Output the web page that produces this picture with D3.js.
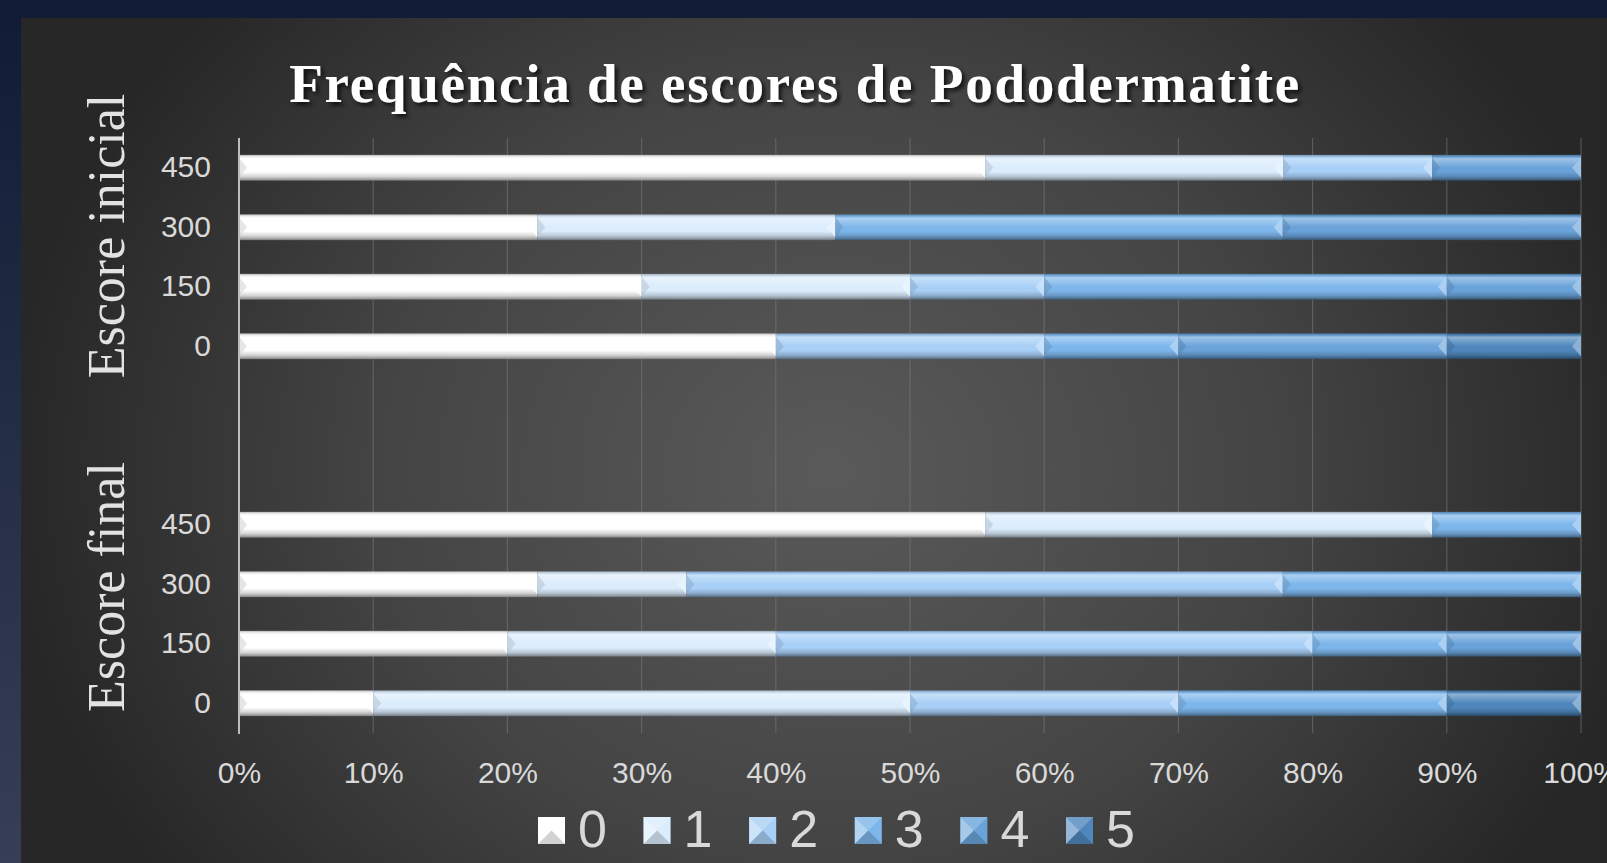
<!DOCTYPE html>
<html>
<head>
<meta charset="utf-8">
<script src="https://cdn.jsdelivr.net/npm/d3@7"></script>
<style>
  html, body { margin: 0; padding: 0; background: #111b35; }
  svg { display: block; }
</style>
</head>
<body>
<svg id="chart" width="1607" height="863"></svg>
<script>
// score categories (legend)
const scores = ["0", "1", "2", "3", "4", "5"];
const scoreColors = ["#ffffff", "#dbecfc", "#a8cff6", "#7db6eb", "#6aa3d9", "#4f87bc"];

// dose groups, top to bottom
const doses = ["450", "300", "150", "0"];

// frequency (%) of each score, per dose
const inicial = [
  [55.6, 22.2, 11.1, 0, 11.1, 0],
  [22.2, 22.2, 0, 33.3, 22.2, 0],
  [30, 20, 10, 30, 10, 0],
  [40, 0, 20, 10, 20, 10]
];
const final = [
  [55.6, 33.3, 0, 11.1, 0, 0],
  [22.2, 11.1, 44.4, 22.2, 0, 0],
  [20, 20, 40, 10, 10, 0],
  [10, 40, 20, 20, 0, 10]
];

const xTicks = [0, 0.1, 0.2, 0.3, 0.4, 0.5, 0.6, 0.7, 0.8, 0.9, 1];

const W = 1607, H = 863;
const padding = { left: 239, right: 25, top: 138, bottom: 130 };

const svg = d3.select("#chart");
const defs = svg.append("defs");

// backgrounds
const outerG = defs.append("linearGradient").attr("id", "outer")
  .attr("x1", 0).attr("y1", 0).attr("x2", 0).attr("y2", 1);
outerG.append("stop").attr("offset", "0%").attr("stop-color", "#111b35");
outerG.append("stop").attr("offset", "100%").attr("stop-color", "#363f56");

const panelG = defs.append("radialGradient").attr("id", "panel")
  .attr("gradientUnits", "userSpaceOnUse")
  .attr("cx", 830).attr("cy", 470).attr("r", 820)
  .attr("gradientTransform", "translate(830,470) scale(1,0.85) translate(-830,-470)");
panelG.append("stop").attr("offset", "0%").attr("stop-color", "#5a5a5a");
panelG.append("stop").attr("offset", "55%").attr("stop-color", "#444444");
panelG.append("stop").attr("offset", "100%").attr("stop-color", "#272727");

svg.append("rect").attr("width", W).attr("height", H).attr("fill", "url(#outer)");
svg.append("rect").attr("x", 21).attr("y", 18).attr("width", W - 21).attr("height", H - 18)
  .attr("fill", "url(#panel)");

// shadow for title
const sh = defs.append("filter").attr("id", "shadow").attr("x", "-5%").attr("y", "-30%")
  .attr("width", "110%").attr("height", "160%");
sh.append("feDropShadow").attr("dx", 3).attr("dy", 3).attr("stdDeviation", 2)
  .attr("flood-color", "#000").attr("flood-opacity", 0.7);

// bevel gradient per score
scores.forEach((s, i) => {
  const c = d3.color(scoreColors[i]);
  const g = defs.append("linearGradient").attr("id", "bar" + i)
    .attr("x1", 0).attr("y1", 0).attr("x2", 0).attr("y2", 1);
  const stops = [
    [0, c.darker(1.0)],
    [0.07, c.darker(0.2)],
    [0.15, d3.interpolateRgb(c, "#fff")(0.35)],
    [0.5, c],
    [0.66, c],
    [0.84, c.darker(0.5)],
    [0.94, c.darker(1.2)],
    [1, c.darker(2)]
  ];
  stops.forEach(st => g.append("stop").attr("offset", st[0]).attr("stop-color", st[1]));
});

// rows: top group, two spacers, bottom group
const rows = [];
doses.forEach((d, i) => rows.push({ key: "i" + d, label: d, values: inicial[i] }));
rows.push({ key: "s1", label: "", values: null });
rows.push({ key: "s2", label: "", values: null });
doses.forEach((d, i) => rows.push({ key: "f" + d, label: d, values: final[i] }));

const x = d3.scaleLinear().domain([0, 1]).range([padding.left, W - padding.right - 1]);
const y = d3.scaleBand().domain(rows.map(r => r.key))
  .range([padding.top, H - padding.bottom]).paddingInner(0.6).paddingOuter(0.3);

// gridlines
svg.append("g").selectAll("line").data(xTicks.slice(1)).enter().append("line")
  .attr("x1", d => x(d)).attr("x2", d => x(d))
  .attr("y1", padding.top).attr("y2", H - padding.bottom)
  .attr("stroke", "#7a7a7a").attr("stroke-opacity", 0.55).attr("stroke-width", 1.2);

// stacked bars
const dataRows = rows.filter(r => r.values).map(r => {
  const o = { key: r.key };
  scores.forEach((s, i) => o[s] = r.values[i]);
  return o;
});
const stack = d3.stack().keys(scores).offset(d3.stackOffsetExpand);
const layers = stack(dataRows);

const bh = y.bandwidth();
const barG = svg.append("g");
layers.forEach((layer, li) => {
  const segs = layer.filter(d => d[1] - d[0] > 0.0001);
  const g = barG.append("g");
  g.selectAll("rect").data(segs).enter().append("rect")
    .attr("x", d => x(d[0]))
    .attr("y", d => y(d.data.key) - 1)
    .attr("width", d => x(d[1]) - x(d[0]))
    .attr("height", bh + 2)
    .attr("fill", "url(#bar" + li + ")");
  const c = d3.color(scoreColors[li]);
  // right bevel (light) and left bevel (dark)
  g.selectAll("path.r").data(segs).enter().append("path")
    .attr("d", d => {
      const x1 = x(d[1]), y0 = y(d.data.key);
      return `M${x1},${y0 + 2}L${x1 - 9},${y0 + bh / 2}L${x1},${y0 + bh - 2}Z`;
    })
    .attr("fill", d3.interpolateRgb(c, "#fff")(0.4)).attr("opacity", 0.85);
  g.selectAll("path.l").data(segs).enter().append("path")
    .attr("d", d => {
      const x0 = x(d[0]), y0 = y(d.data.key);
      return `M${x0},${y0 + 2}L${x0 + 8},${y0 + bh / 2}L${x0},${y0 + bh - 2}Z`;
    })
    .attr("fill", c.darker(0.6)).attr("opacity", 0.5);
});

// vertical axis
const yAxis = d3.axisLeft(y).tickSize(0).tickPadding(28)
  .tickFormat(k => rows.find(r => r.key === k).label);
const ya = svg.append("g").attr("transform", `translate(${padding.left},0)`).call(yAxis);
ya.select(".domain").remove();
ya.selectAll("text").attr("font-family", "Liberation Sans, Arial, sans-serif")
  .attr("font-size", 30).attr("fill", "#d9d9d9");
svg.append("line").attr("x1", padding.left).attr("x2", padding.left)
  .attr("y1", padding.top).attr("y2", H - padding.bottom + 1)
  .attr("stroke", "#bdbdbd").attr("stroke-width", 2);

// horizontal axis
const xAxis = d3.axisBottom(x).tickValues(xTicks).tickFormat(d3.format(".0%"))
  .tickSize(0).tickPadding(29);
const xa = svg.append("g").attr("transform", `translate(0,${H - padding.bottom})`).call(xAxis);
xa.select(".domain").remove();
xa.selectAll("text").attr("font-family", "Liberation Sans, Arial, sans-serif")
  .attr("font-size", 30).attr("fill", "#d9d9d9");

// group titles
const groupTitles = [
  { text: "Escore inicial", keys: doses.map(d => "i" + d), shift: -21 },
  { text: "Escore final", keys: doses.map(d => "f" + d), shift: -27 }
];
groupTitles.forEach(gt => {
  const cy = d3.mean(gt.keys, k => y(k) + bh / 2) + gt.shift;
  svg.append("text")
    .attr("transform", `translate(124,${cy}) rotate(-90)`)
    .attr("text-anchor", "middle")
    .attr("font-family", "Liberation Serif, Times New Roman, serif")
    .attr("font-size", 52).attr("fill", "#e2e2e2")
    .text(gt.text);
});

// title
const title = svg.append("text")
  .attr("x", 795).attr("y", 102).attr("text-anchor", "middle")
  .attr("font-family", "Liberation Serif, Times New Roman, serif")
  .attr("font-weight", "bold").attr("font-size", 55).attr("fill", "#ffffff")
  .attr("filter", "url(#shadow)")
  .text("Frequência de escores de Pododermatite");
const tw = title.node().getComputedTextLength();
const n = "Frequência de escores de Pododermatite".length;
title.attr("letter-spacing", Math.max(0, (1010 - tw) / (n - 1)));

// legend
const lg = svg.append("g");
scores.forEach((s, i) => {
  const lx = 538 + i * 105.6, ly = 817, sz = 27;
  const c = d3.color(scoreColors[i]);
  lg.append("rect").attr("x", lx).attr("y", ly).attr("width", sz).attr("height", sz)
    .attr("fill", c);
  lg.append("path")
    .attr("d", `M${lx},${ly}L${lx + sz / 2},${ly + sz / 2}L${lx},${ly + sz}Z`)
    .attr("fill", d3.interpolateRgb(c, "#fff")(0.45)).attr("opacity", 0.9);
  lg.append("path")
    .attr("d", `M${lx},${ly}L${lx + sz / 2},${ly + sz / 2}L${lx + sz},${ly}Z`)
    .attr("fill", d3.interpolateRgb(c, "#fff")(0.25)).attr("opacity", 0.8);
  lg.append("path")
    .attr("d", `M${lx},${ly + sz}L${lx + sz / 2},${ly + sz / 2}L${lx + sz},${ly + sz}Z`)
    .attr("fill", c.darker(0.7)).attr("opacity", 0.8);
  lg.append("text").attr("x", lx + 40).attr("y", 847)
    .attr("font-family", "Liberation Sans, Arial, sans-serif")
    .attr("font-size", 52).attr("fill", "#d9d9d9").text(s);
});
</script>
</body>
</html>
